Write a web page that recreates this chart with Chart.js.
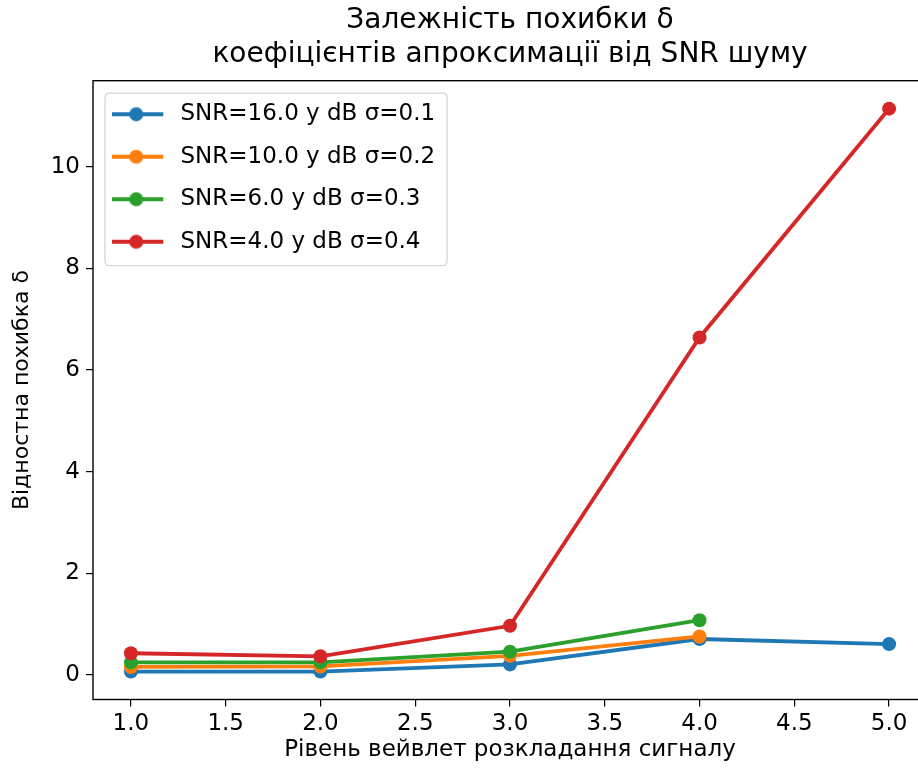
<!DOCTYPE html>
<html>
<head>
<meta charset="utf-8">
<script src="https://cdn.jsdelivr.net/npm/chart.js@4.4.1/dist/chart.umd.min.js"></script>
<style>
  html, body { margin: 0; padding: 0; background: #fff; overflow: hidden; }
  #wrap { width: 918px; height: 771px; overflow: hidden; position: relative; }
  canvas { display: block; }
</style>
</head>
<body>
<div id="wrap"><canvas id="c" width="940" height="771"></canvas></div>
<script>
// ---- data ----
const levels = [1, 2, 3, 4, 5];
const snr16 = [0.07, 0.07, 0.21, 0.71, 0.61];
const snr10 = [0.16, 0.17, 0.38, 0.76];
const snr6  = [0.25, 0.25, 0.46, 1.08];
const snr4  = [0.43, 0.37, 0.97, 6.64, 11.14];
const seriesLabels = [
  'SNR=16.0 у dB σ=0.1',
  'SNR=10.0 у dB σ=0.2',
  'SNR=6.0 у dB σ=0.3',
  'SNR=4.0 у dB σ=0.4'
];
const xTicks = [1.0, 1.5, 2.0, 2.5, 3.0, 3.5, 4.0, 4.5, 5.0];
const yTicks = [0, 2, 4, 6, 8, 10];
const titleLines = ['Залежність похибки δ', 'коефіцієнтів апроксимації від SNR шуму'];
const xTitle = 'Рівень вейвлет розкладання сигналу';
const yTitle = 'Відностна похибка δ';

// ---- style ----
const FONT = 'DejaVu Sans';
const colors = ['#1f77b4', '#ff7f0e', '#2ca02c', '#d62728'];
const LW = 3.8, PR = 7;
const LEG_FS = 23, LEG_PAD = 19.5, LEG_BOX = 56.5, LEG_SHIFT = 2.5;

function makeSymbol(color) {
  const c = document.createElement('canvas');
  c.width = 57; c.height = 18;
  const g = c.getContext('2d');
  g.strokeStyle = color; g.lineWidth = LW;
  g.beginPath(); g.moveTo(0, 9); g.lineTo(51, 9); g.stroke();
  g.fillStyle = color;
  g.beginPath(); g.arc(24, 9, PR, 0, Math.PI * 2); g.fill();
  return c;
}
const symbols = colors.map(makeSymbol);

const allSeries = [snr16, snr10, snr6, snr4];
const datasets = allSeries.map((vals, i) => ({
  label: seriesLabels[i],
  data: vals.map((v, j) => ({ x: levels[j], y: v })),
  borderColor: colors[i],
  backgroundColor: colors[i],
  pointBackgroundColor: colors[i],
  pointBorderWidth: 0,
  pointRadius: PR,
  borderWidth: LW,
  tension: 0,
  fill: false,
  order: allSeries.length - i
}));

const framePlugin = {
  id: 'frame',
  afterLayout(chart) {
    const lg = chart.legend, ca = chart.chartArea;
    if (lg) {
      const w = lg.width, h = lg.height;
      lg.left = ca.left; lg.top = ca.top + LEG_SHIFT; lg.right = ca.left + w; lg.bottom = lg.top + h;
    }
  },
  beforeDraw(chart) {
    const lg = chart.legend, ctx = chart.ctx;
    if (!lg) return;
    ctx.save();
    ctx.font = LEG_FS + 'px "' + FONT + '"';
    let tw = 0;
    seriesLabels.forEach(t => { tw = Math.max(tw, ctx.measureText(t).width); });
    const x0 = lg.left + LEG_PAD, y0 = lg.top + LEG_PAD;
    const L = x0 - 7.5, T = y0 - 9.5;
    const R = x0 + LEG_BOX + LEG_FS / 2 + tw + 12;
    const B = y0 + seriesLabels.length * LEG_FS + (seriesLabels.length - 1) * LEG_PAD + 12.5;
    const r = 5;
    ctx.beginPath();
    ctx.moveTo(L + r, T); ctx.lineTo(R - r, T); ctx.quadraticCurveTo(R, T, R, T + r);
    ctx.lineTo(R, B - r); ctx.quadraticCurveTo(R, B, R - r, B);
    ctx.lineTo(L + r, B); ctx.quadraticCurveTo(L, B, L, B - r);
    ctx.lineTo(L, T + r); ctx.quadraticCurveTo(L, T, L + r, T);
    ctx.closePath();
    ctx.fillStyle = 'rgba(255,255,255,0.8)';
    ctx.fill();
    ctx.strokeStyle = '#d6d6d6';
    ctx.lineWidth = 1.3;
    ctx.stroke();
    ctx.restore();
  },
  afterDatasetsDraw(chart) {
    const { ctx, chartArea: a } = chart;
    ctx.save();
    ctx.strokeStyle = '#000';
    ctx.lineWidth = 1.4;
    ctx.strokeRect(a.left, a.top, a.right - a.left, a.bottom - a.top);
    ctx.restore();
  }
};

Chart.defaults.font.family = FONT;
Chart.defaults.color = '#000';

new Chart(document.getElementById('c'), {
  type: 'line',
  data: { datasets },
  plugins: [framePlugin],
  options: {
    responsive: false,
    animation: false,
    devicePixelRatio: 1,
    layout: { padding: { left: 0, right: 13, top: 0, bottom: 0 } },
    plugins: {
      tooltip: { enabled: false },
      title: {
        display: true,
        text: titleLines,
        fullSize: false,
        color: '#000',
        font: { size: 28, weight: 'normal', family: FONT, lineHeight: 1.2 },
        padding: { top: 4, bottom: 9.5 }
      },
      legend: {
        display: true,
        position: 'chartArea',
        align: 'start',
        labels: {
          usePointStyle: true,
          pointStyleWidth: LEG_BOX,
          boxHeight: LEG_FS,
          padding: LEG_PAD,
          color: '#000',
          font: { size: LEG_FS, family: FONT },
          generateLabels: (chart) => chart.data.datasets.map((ds, i) => ({
            text: ds.label,
            pointStyle: symbols[i],
            fillStyle: colors[i],
            strokeStyle: colors[i],
            lineWidth: 0,
            hidden: false,
            datasetIndex: i,
            fontColor: '#000'
          }))
        }
      }
    },
    scales: {
      x: {
        type: 'linear',
        min: 0.8,
        max: 5.2,
        afterBuildTicks: (s) => { s.ticks = xTicks.map(v => ({ value: v })); },
        afterFit: (s) => { s.height = 71.5; },
        border: { display: false },
        grid: { display: true, drawOnChartArea: false, drawTicks: true, tickLength: 7, color: '#000', lineWidth: 1.2 },
        ticks: {
          padding: 4,
          color: '#000',
          font: { size: 23, family: FONT },
          maxRotation: 0,
          autoSkip: false,
          callback: (v) => Number(v).toFixed(1)
        },
        title: {
          display: true,
          text: xTitle,
          color: '#000',
          font: { size: 23, family: FONT },
          padding: { top: 0, bottom: 7 }
        }
      },
      y: {
        type: 'linear',
        min: -0.48,
        max: 11.69,
        afterBuildTicks: (s) => { s.ticks = yTicks.map(v => ({ value: v })); },
        afterFit: (s) => { s.width = 93; },
        border: { display: false },
        grid: { display: true, drawOnChartArea: false, drawTicks: true, tickLength: 7, color: '#000', lineWidth: 1.2 },
        ticks: {
          padding: 6,
          color: '#000',
          font: { size: 23, family: FONT },
          autoSkip: false,
          callback: (v) => String(v)
        },
        title: {
          display: true,
          text: yTitle,
          color: '#000',
          font: { size: 22, family: FONT },
          padding: { top: 9, bottom: 0 }
        }
      }
    }
  }
});
</script>
</body>
</html>
